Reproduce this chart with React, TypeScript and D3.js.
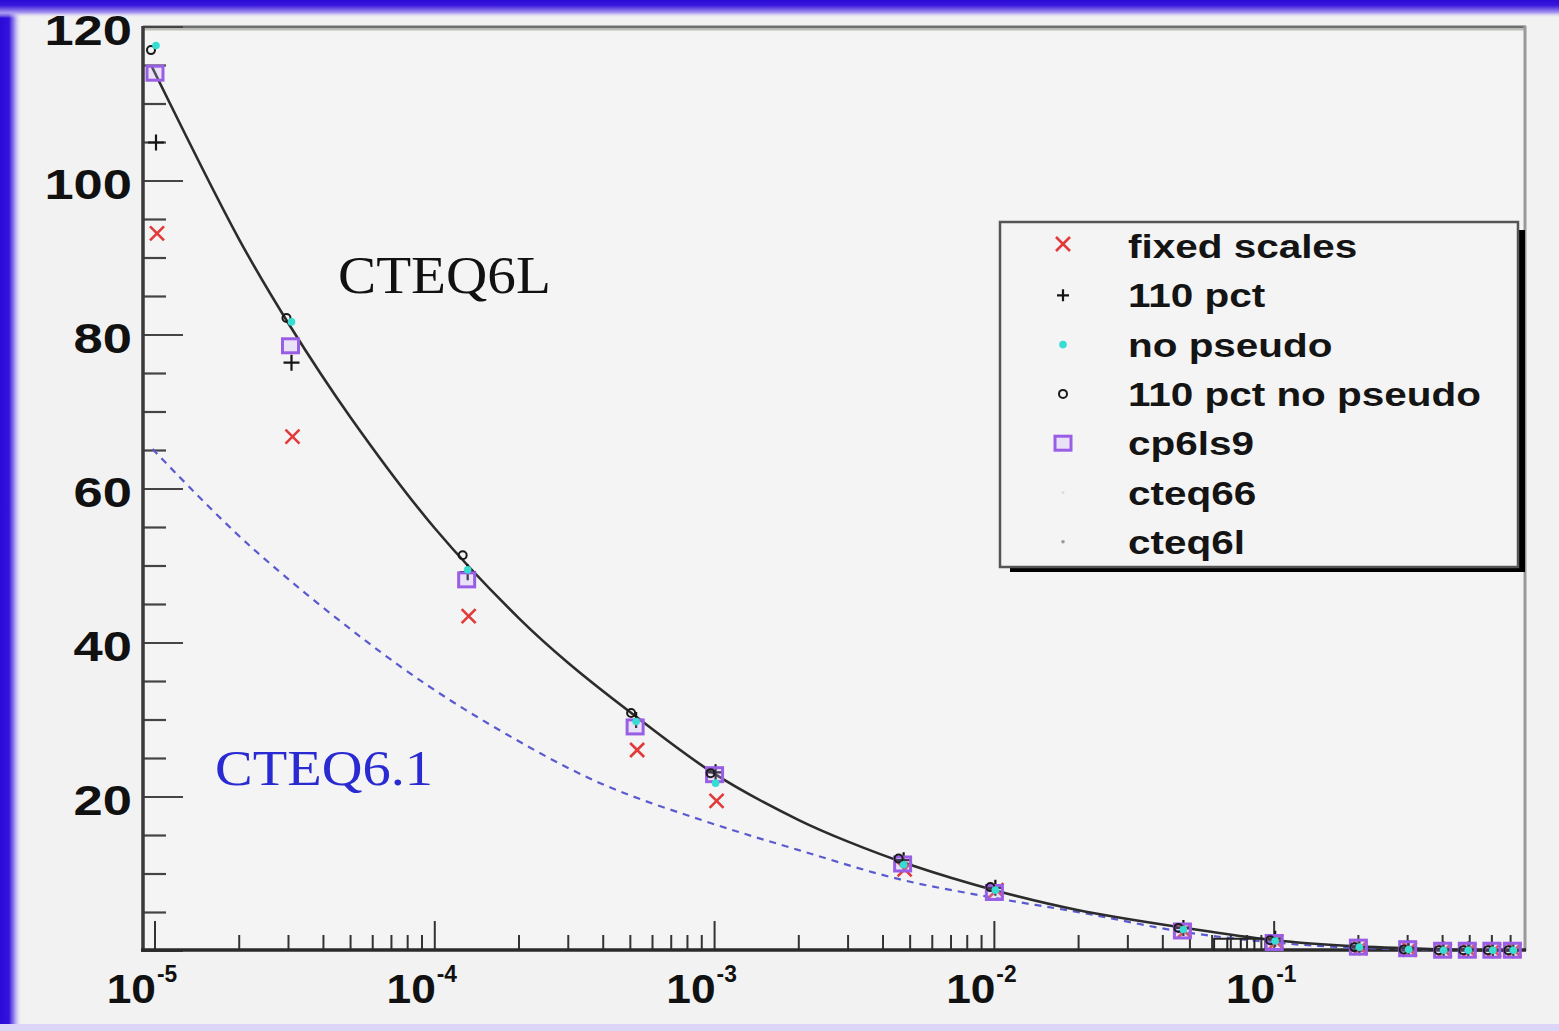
import React from "react";
import * as d3 from "d3";

// ---------------- data ----------------
const pointX = [1e-5, 3.05e-5, 1.3e-4, 5.2e-4, 1e-3, 4.7e-3, 1e-2, 4.7e-2, 0.1, 0.2, 0.3, 0.4, 0.49, 0.6, 0.71];

const fixedScales = [93.2, 66.8, 43.5, 26.1, 19.5, 10.6, 7.9, 2.6, 1.2, 0.4, 0.2, 0.1, 0.1, 0.1, 0.1];
const pct110 = [105, 76.4, 49.2, 30.0, 23.2, 11.8, 8.2, 3.0, 1.6, 0.5, 0.4, 0.2, 0.2, 0.1, 0.1];
const noPseudo = [117.6, 81.7, 49.5, 29.8, 21.8, 11.2, 7.9, 2.8, 1.3, 0.5, 0.2, 0.1, 0.1, 0.1, 0.1];
const pct110NoPseudo = [117, 82.2, 51.4, 30.9, 23.1, 12.0, 8.3, 3.0, 1.4, 0.5, 0.2, 0.1, 0.1, 0.1, 0.1];
const cp6ls9 = [114, 78.6, 48.2, 29.1, 22.9, 11.3, 7.6, 2.6, 1.1, 0.5, 0.3, 0.1, 0.1, 0.1, 0.1];

// CTEQ6L curve (solid black)
const cteq6lX = [9.7e-6, 2e-5, 3e-5, 5e-5, 1e-4, 2e-4, 3e-4, 5e-4, 1e-3, 2e-3, 3e-3, 5e-3, 1e-2, 2e-2, 5e-2, 0.1, 0.2, 0.4, 0.75];
const cteq6lY = [115, 92.4, 81.5, 69.3, 54.9, 43.2, 37.4, 31, 23, 17, 14.2, 11.2, 7.9, 5.3, 2.9, 1.4, 0.6, 0.2, 0.05];

// CTEQ6.1 curve (dashed blue)
const cteq61X = [9.8e-6, 2.2e-5, 7.5e-5, 1.7e-4, 3.9e-4, 9e-4, 2e-3, 4.6e-3, 1e-2, 2.1e-2, 4.7e-2, 0.1, 0.2, 0.75];
const cteq61Y = [65.2, 52.5, 37, 28.7, 21.8, 17, 13.1, 9.3, 6.9, 4.9, 2.5, 1.1, 0.4, 0.05];

// small step outline near x ~ 0.06-0.09
const stepX = [0.061, 0.068, 0.076, 0.085, 0.093];
const stepTop = 1.6;

const legendLabels = ["fixed scales", "110 pct", "no pseudo", "110 pct no pseudo", "cp6ls9", "cteq66", "cteq6l"];
const xMajorTicks = [1e-5, 1e-4, 1e-3, 1e-2, 1e-1];
const xMajorExp = ["-5", "-4", "-3", "-2", "-1"];
const yLabels = [20, 40, 60, 80, 100, 120];

// ---------------- layout ----------------
const W = 1559;
const H = 1031;
const x = d3.scaleLog().domain([9.06e-6, 0.788]).range([143, 1525]);
const y = d3.scaleLinear().domain([0, 120]).range([951, 27]);

const RED = "#e23a3a";
const PURPLE = "#9a5ee6";
const CYAN = "#37dcd2";

function XMark({ cx, cy, s = 7 }: { cx: number; cy: number; s?: number }) {
  return (
    <path d={`M${cx - s},${cy - s}L${cx + s},${cy + s}M${cx - s},${cy + s}L${cx + s},${cy - s}`} stroke={RED} strokeWidth={2.6} fill="none" />
  );
}
function PlusMark({ cx, cy, s = 8 }: { cx: number; cy: number; s?: number }) {
  return <path d={`M${cx - s},${cy}L${cx + s},${cy}M${cx},${cy - s}L${cx},${cy + s}`} stroke="#151515" strokeWidth={2.2} fill="none" />;
}
function SquareMark({ cx, cy }: { cx: number; cy: number }) {
  return <rect x={cx - 8} y={cy - 7} width={16} height={14} stroke={PURPLE} strokeWidth={3} fill="rgba(200,170,255,0.25)" />;
}
function DotMark({ cx, cy }: { cx: number; cy: number }) {
  return <circle cx={cx} cy={cy} r={3.8} fill={CYAN} />;
}
function CircleMark({ cx, cy }: { cx: number; cy: number }) {
  return <circle cx={cx} cy={cy} r={4} stroke="#1a1a1a" strokeWidth={2} fill="none" />;
}

export default function App() {
  const line = d3
    .line<[number, number]>()
    .x((d) => x(d[0]))
    .y((d) => y(d[1]))
    .curve(d3.curveCatmullRom.alpha(0.5));

  const solidPath = line(cteq6lX.map((v, i) => [v, cteq6lY[i]] as [number, number])) || "";
  const dashedPath = line(cteq61X.map((v, i) => [v, cteq61Y[i]] as [number, number])) || "";

  const xAllTicks = x.ticks().filter((t) => x(t) > 146 && x(t) < 1522);
  const yAllTicks = y.ticks(24);

  const font = "'Liberation Sans', Arial, Helvetica, sans-serif";
  const serif = "'Liberation Serif', 'Times New Roman', serif";

  const legendX = 1063;
  const legendRowY = (i: number) => 246 + i * 49.3;

  return (
    <svg width={W} height={H} style={{ position: "absolute", left: 0, top: 0 }}>
      <defs>
        <linearGradient id="lg" x1="0" x2="1" y1="0" y2="0">
          <stop offset="0" stopColor="#2a0ad6" />
          <stop offset="0.4" stopColor="#3512dc" />
          <stop offset="0.65" stopColor="#9c8cee" />
          <stop offset="1" stopColor="#f2f2f2" stopOpacity="0" />
        </linearGradient>
        <linearGradient id="tg" x1="0" x2="0" y1="0" y2="1">
          <stop offset="0" stopColor="#2a0ad6" />
          <stop offset="0.3" stopColor="#3a18dc" />
          <stop offset="0.7" stopColor="#a898f0" />
          <stop offset="1" stopColor="#f2f2f2" stopOpacity="0" />
        </linearGradient>
      </defs>
      <rect x={0} y={0} width={W} height={H} fill="#f2f2f2" />
      <rect x={0} y={0} width={22} height={H} fill="url(#lg)" />
      <rect x={0} y={0} width={W} height={18} fill="url(#tg)" />
      <rect x={0} y={1024} width={W} height={7} fill="#dcd5f7" />

      {/* plot area */}
      <rect x={143} y={27} width={1382} height={924} fill="#f4f4f4" />

      {/* frame */}
      <line x1={143} x2={1526} y1={27} y2={27} stroke="#6c7070" strokeWidth={3} />
      <line x1={143} x2={1526} y1={29.5} y2={29.5} stroke="#bdbdb8" strokeWidth={2} />
      <line x1={1525} x2={1525} y1={26} y2={951} stroke="#999" strokeWidth={3} />

      {/* y ticks */}
      {yAllTicks.map((t) => {
        const major = t % 20 === 0;
        return <line key={"yt" + t} x1={143} x2={143 + (major ? 40 : 23)} y1={y(t)} y2={y(t)} stroke="#444" strokeWidth={2.2} />;
      })}
      {/* x ticks */}
      {xAllTicks.map((t, i) => {
        const major = xMajorTicks.some((m) => Math.abs(m - t) / m < 1e-6);
        return <line key={"xt" + i} x1={x(t)} x2={x(t)} y1={950} y2={950 - (major ? 29 : 15)} stroke="#333" strokeWidth={2} />;
      })}

      {/* axes */}
      <line x1={143} x2={143} y1={26} y2={952} stroke="#3a3a3a" strokeWidth={3.5} />
      <line x1={141} x2={1526} y1={950} y2={950} stroke="#2a2a2a" strokeWidth={3.5} />

      {/* y labels */}
      {yLabels.map((v) => (
        <text
          key={"yl" + v}
          transform={`translate(132,${y(v) + 3}) scale(1.25,1)`}
          textAnchor="end"
          dominantBaseline="central"
          fontFamily={font}
          fontWeight="bold"
          fontSize={42}
          fill="#111"
        >
          {v}
        </text>
      ))}

      {/* x labels */}
      {xMajorTicks.map((t, i) => (
        <g key={"xl" + i}>
          <text transform={`translate(${x(t) + 1},1003) scale(1.08,1)`} textAnchor="end" fontFamily={font} fontWeight="bold" fontSize={41} fill="#111">
            10
          </text>
          <text transform={`translate(${x(t) + 2},982) scale(0.95,1)`} textAnchor="start" fontFamily={font} fontWeight="bold" fontSize={24} fill="#111">
            {xMajorExp[i]}
          </text>
        </g>
      ))}

      {/* curves */}
      <path d={dashedPath} fill="none" stroke="#5a5ad0" strokeWidth={2.2} strokeDasharray="7 6" />
      <path d={solidPath} fill="none" stroke="#2c2c2c" strokeWidth={2.6} />

      {/* step outline */}
      <path
        d={
          `M${x(stepX[0])},${y(0)}L${x(stepX[0])},${y(stepTop)}L${x(stepX[stepX.length - 1])},${y(stepTop)}L${x(stepX[stepX.length - 1])},${y(0)}` +
          stepX.slice(1, -1).map((s) => `M${x(s)},${y(0)}L${x(s)},${y(stepTop)}`).join("")
        }
        fill="none"
        stroke="#222"
        strokeWidth={2}
      />

      {/* markers */}
      {pointX.map((px, i) => (
        <g key={"m" + i}>
          <XMark cx={x(px) + 2} cy={y(fixedScales[i])} />
          <PlusMark cx={x(px) + 1} cy={y(pct110[i])} />
          <SquareMark cx={x(px)} cy={y(cp6ls9[i])} />
          <CircleMark cx={x(px) - 4} cy={y(pct110NoPseudo[i])} />
          <DotMark cx={x(px) + 1} cy={y(noPseudo[i])} />
        </g>
      ))}

      {/* annotations */}
      <text transform="translate(338,293) scale(1.1,1)" fontFamily={serif} fontSize={52} fill="#111">
        CTEQ6L
      </text>
      <text transform="translate(215,785) scale(1.13,1)" fontFamily={serif} fontSize={50} fill="#2a2ad2">
        CTEQ6.1
      </text>

      {/* legend */}
      <rect x={1010} y={230} width={515} height={342} fill="#000" />
      <rect x={1000} y={222} width={518} height={345} fill="#f4f4f4" stroke="#555" strokeWidth={2.5} />
      <XMark cx={legendX} cy={legendRowY(0) - 2} s={7} />
      <PlusMark cx={legendX} cy={legendRowY(1)} s={6} />
      <DotMark cx={legendX} cy={legendRowY(2)} />
      <CircleMark cx={legendX} cy={legendRowY(3)} />
      <SquareMark cx={legendX} cy={legendRowY(4)} />
      <circle cx={legendX} cy={legendRowY(5)} r={1.5} fill="#ddd" />
      <circle cx={legendX} cy={legendRowY(6)} r={1.8} fill="#999" />
      {legendLabels.map((l, i) => (
        <text
          key={"lg" + i}
          transform={`translate(1128,${legendRowY(i) + 12}) scale(1.19,1)`}
          fontFamily={font}
          fontWeight="bold"
          fontSize={34}
          fill="#141414"
        >
          {l}
        </text>
      ))}
    </svg>
  );
}
